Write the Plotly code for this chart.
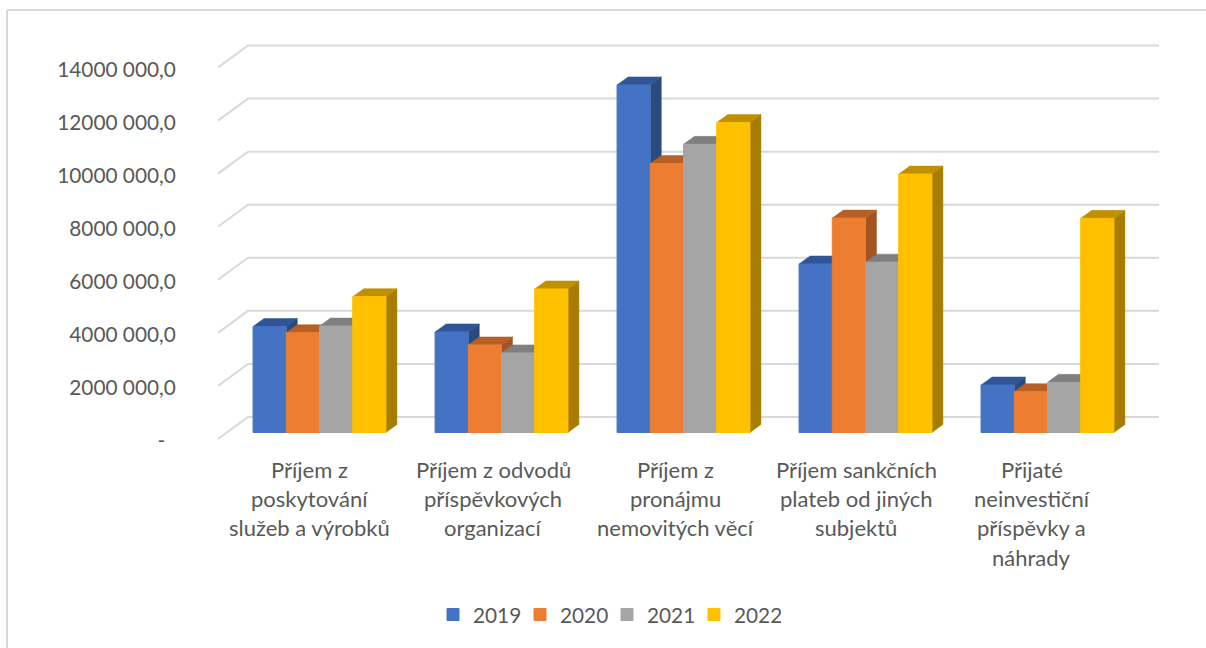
import plotly.graph_objects as go

years = ["2019", "2020", "2021", "2022"]
categories = [
    ["Příjem z", "poskytování", "služeb a výrobků"],
    ["Příjem z odvodů", "příspěvkových", "organizací"],
    ["Příjem z", "pronájmu", "nemovitých věcí"],
    ["Příjem sankčních", "plateb od jiných", "subjektů"],
    ["Přijaté", "neinvestiční", "příspěvky a", "náhrady"],
]
label_shift = [-10, -8.5, -8, -9.5, -16]
v2019 = [3995, 3790, 13100, 6350, 1790]
v2020 = [3760, 3300, 10140, 8080, 1540]
v2021 = [4010, 3000, 10860, 6420, 1890]
v2022 = [5120, 5410, 11680, 9740, 8070]
series = [v2019, v2020, v2021, v2022]
front_colors = ["#4472C4", "#ED7D31", "#A5A5A5", "#FFC000"]
top_colors = ["#2F5597", "#B85F25", "#7F7F7F", "#BF9000"]
side_colors = ["#2B4A80", "#A35420", "#6E6E6E", "#A67D00"]
y_ticks = [0, 2000, 4000, 6000, 8000, 10000, 12000, 14000]
y_ticktext = ["-\u00a0\u00a0", "2000 000,0", "4000 000,0", "6000 000,0", "8000 000,0",
              "10000 000,0", "12000 000,0", "14000 000,0"]

TEXT = "#595959"
GRID = "#D9D9D9"
FONT = "Lato"
FS = 20.8
FS_CAT = 22

W, H = 1206, 648
ML, MR, MT, MB = 184, 36, 30, 188
PX_X = 182.0            # pixels per category
PX_Y = 53.07 / 2000     # pixels per value unit
x_range = [(ML - 319.5) / PX_X, (W - MR - 319.5) / PX_X]
y_range = [(432.5 - (H - MB)) / PX_Y, (432.5 - MT) / PX_Y]

gap = 0.27
bw = (1 - gap) / 4
bar_dx, bar_dy = 11 / PX_X, 8 / PX_Y
front_off = -6.5 / PX_Y
back_off = 15.5 / PX_Y
label_off = -2 / PX_Y
wall_front_x = (218 - 319.5) / PX_X
wall_back_x = (248 - 319.5) / PX_X
wall_right_x = (1159 - 319.5) / PX_X

fig = go.Figure()

# gridlines with the slanted floor/wall segment
gx, gy = [], []
for t in y_ticks:
    gx += [wall_front_x, wall_back_x, wall_right_x, None]
    gy += [t + front_off, t + back_off, t + back_off, None]
fig.add_trace(go.Scatter(x=gx, y=gy, mode="lines", line=dict(color=GRID, width=2),
                         showlegend=False, hoverinfo="skip", xaxis="x", yaxis="y"))

# depth faces, painted from left to right
for j, vals in enumerate(series):
    sx, sy, tx, ty = [], [], [], []
    for i, v in enumerate(vals):
        L = i + (j - 2) * bw
        R = L + bw
        sx += [R, R + bar_dx, R + bar_dx, R, R, None]
        sy += [0, bar_dy, v + bar_dy, v, 0, None]
        tx += [L, R, R + bar_dx, L + bar_dx, L, None]
        ty += [v, v, v + bar_dy, v + bar_dy, v, None]
    for fx, fy, col in ((sx, sy, side_colors[j]), (tx, ty, top_colors[j])):
        fig.add_trace(go.Scatter(x=fx, y=fy, mode="lines", fill="toself", fillcolor=col,
                                 line=dict(color=col, width=0.5), showlegend=False,
                                 hoverinfo="skip", xaxis="x", yaxis="y"))

# front faces, on an overlay with identical scales
for j, vals in enumerate(series):
    fig.add_trace(go.Bar(x=list(range(len(vals))), y=vals, name=years[j],
                         marker=dict(color=front_colors[j],
                                     line=dict(width=1, color=front_colors[j])),
                         xaxis="x2", yaxis="y2"))

px = lambda p: (p - ML) / (W - ML - MR)
py = lambda p: (H - MB - p) / (H - MT - MB)

annotations = []
for i, lines in enumerate(categories):
    for k, line in enumerate(lines):
        annotations.append(dict(text=line, x=i, xref="x", xshift=label_shift[i],
                                y=py(469 + 29.4 * k), yref="paper",
                                showarrow=False, xanchor="center", yanchor="middle",
                                font=dict(family=FONT, size=FS_CAT, color=TEXT)))

frame = dict(type="line", xref="paper", yref="paper", line=dict(color=GRID, width=2))

axis_common = dict(showgrid=False, zeroline=False, showline=False)
fig.update_layout(
    width=W, height=H,
    margin=dict(l=ML, r=MR, t=MT, b=MB, pad=0),
    paper_bgcolor="white", plot_bgcolor="rgba(0,0,0,0)",
    font=dict(family=FONT, size=FS, color=TEXT),
    barmode="group", bargap=gap, bargroupgap=0,
    xaxis=dict(range=x_range, showticklabels=False, ticks="", **axis_common),
    yaxis=dict(range=y_range, tickmode="array",
               tickvals=[t + front_off + label_off for t in y_ticks], ticktext=y_ticktext,
               ticks="outside", ticklen=3, tickcolor="rgba(0,0,0,0)", **axis_common),
    xaxis2=dict(range=x_range, overlaying="x", visible=False, **axis_common),
    yaxis2=dict(range=y_range, overlaying="y", visible=False, **axis_common),
    legend=dict(orientation="h", xref="paper", yref="paper",
                x=px(433), xanchor="left", y=py(615), yanchor="middle",
                entrywidth=42, entrywidthmode="pixels", traceorder="normal",
                font=dict(family=FONT, size=FS, color=TEXT), bgcolor="rgba(0,0,0,0)"),
    annotations=annotations,
    shapes=[dict(frame, x0=px(7), x1=px(7), y0=py(10), y1=py(648)),
            dict(frame, x0=px(7), x1=px(1206), y0=py(10), y1=py(10))],
)
fig.write_html("out.html", config={"displayModeBar": False},
               post_script="document.body.style.margin='0';")
